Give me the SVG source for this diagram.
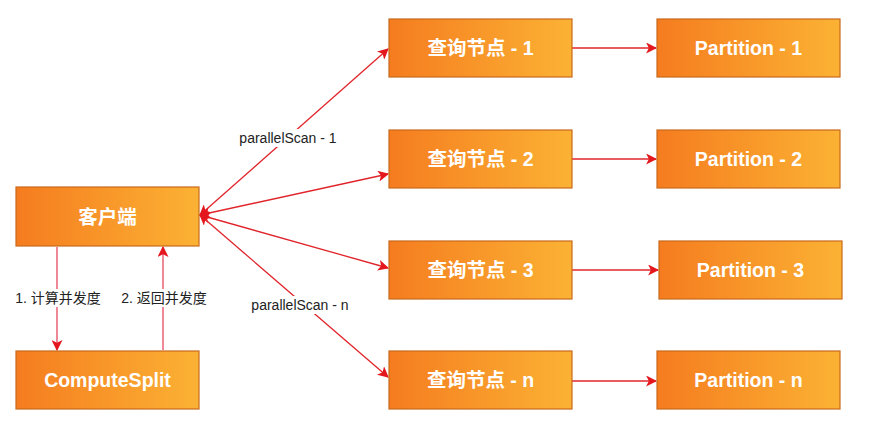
<svg xmlns="http://www.w3.org/2000/svg" width="869" height="431" viewBox="0 0 869 431">
<defs>
<linearGradient id="g" x1="0" y1="0" x2="1" y2="0">
<stop offset="0" stop-color="#F57C1F"/>
<stop offset="1" stop-color="#FBB234"/>
</linearGradient>
<marker id="ah" viewBox="0 0 10 10" refX="9" refY="5" markerWidth="11" markerHeight="11" markerUnits="userSpaceOnUse" orient="auto-start-reverse">
<path d="M0,0 L10,5 L0,10 L2.5,5 Z" fill="#E3171D"/>
</marker>
<style>
.box{fill:url(#g);stroke:#C9691B;stroke-width:1.2}
.t{font-family:"Liberation Sans","Noto Sans CJK SC",sans-serif;font-size:19.5px;font-weight:bold;fill:#FFFFFF;text-anchor:middle;dominant-baseline:central}
.l{font-family:"Liberation Sans","Noto Sans CJK SC",sans-serif;font-size:14px;fill:#222;text-anchor:middle;dominant-baseline:central}
.c{fill:none;stroke:#E0242A;stroke-width:1.3}
.v{fill:none;stroke:#EC6A7C;stroke-width:1.6}
</style>
</defs>
<rect width="869" height="431" fill="#FFFFFF"/>
<g id="connectors">
<path class="c" d="M200,215 L388,49" marker-start="url(#ah)" marker-end="url(#ah)"/>
<path class="c" d="M200,215 L388,174" marker-start="url(#ah)" marker-end="url(#ah)"/>
<path class="c" d="M200,215 L388,268" marker-start="url(#ah)" marker-end="url(#ah)"/>
<path class="c" d="M200,215 L388,377" marker-start="url(#ah)" marker-end="url(#ah)"/>
<path class="c" d="M572,48 L656,48" marker-end="url(#ah)"/>
<path class="c" d="M572,159 L656,159" marker-end="url(#ah)"/>
<path class="c" d="M572,270 L658,270" marker-end="url(#ah)"/>
<path class="c" d="M572,381 L656,381" marker-end="url(#ah)"/>
<path class="v" d="M57,247 L57,350" marker-end="url(#ah)"/>
<path class="v" d="M163,350 L163,247" marker-end="url(#ah)"/>
<rect x="12" y="289" width="92" height="18" fill="#FFFFFF"/>
<rect x="118" y="289" width="92" height="18" fill="#FFFFFF"/>
<text class="l" x="58" y="298">1. 计算并发度</text>
<text class="l" x="164" y="298">2. 返回并发度</text>
<rect x="236" y="129" width="104" height="18" fill="#FFFFFF"/>
<text class="l" x="288" y="138">parallelScan - 1</text>
<rect x="248" y="296" width="104" height="18" fill="#FFFFFF"/>
<text class="l" x="300" y="305">parallelScan - n</text>
</g>
<g id="client"><rect class="box" x="16" y="187" width="183" height="59"/><text class="t" x="107.5" y="216.5">客户端</text></g>
<g id="computesplit"><rect class="box" x="16" y="351" width="183" height="58"/><text class="t" x="107.5" y="380">ComputeSplit</text></g>
<g id="q1"><rect class="box" x="389" y="19" width="183" height="58"/><text class="t" x="480.5" y="48">查询节点 - 1</text></g>
<g id="q2"><rect class="box" x="389" y="130" width="183" height="58"/><text class="t" x="480.5" y="159">查询节点 - 2</text></g>
<g id="q3"><rect class="box" x="389" y="241" width="183" height="58"/><text class="t" x="480.5" y="270">查询节点 - 3</text></g>
<g id="qn"><rect class="box" x="389" y="351" width="183" height="58"/><text class="t" x="480.5" y="380">查询节点 - n</text></g>
<g id="p1"><rect class="box" x="657" y="19" width="183" height="58"/><text class="t" x="748.5" y="48">Partition - 1</text></g>
<g id="p2"><rect class="box" x="657" y="130" width="183" height="58"/><text class="t" x="748.5" y="159">Partition - 2</text></g>
<g id="p3"><rect class="box" x="659" y="241" width="183" height="58"/><text class="t" x="750.5" y="270">Partition - 3</text></g>
<g id="pn"><rect class="box" x="657" y="351" width="183" height="58"/><text class="t" x="748.5" y="380">Partition - n</text></g>
</svg>
